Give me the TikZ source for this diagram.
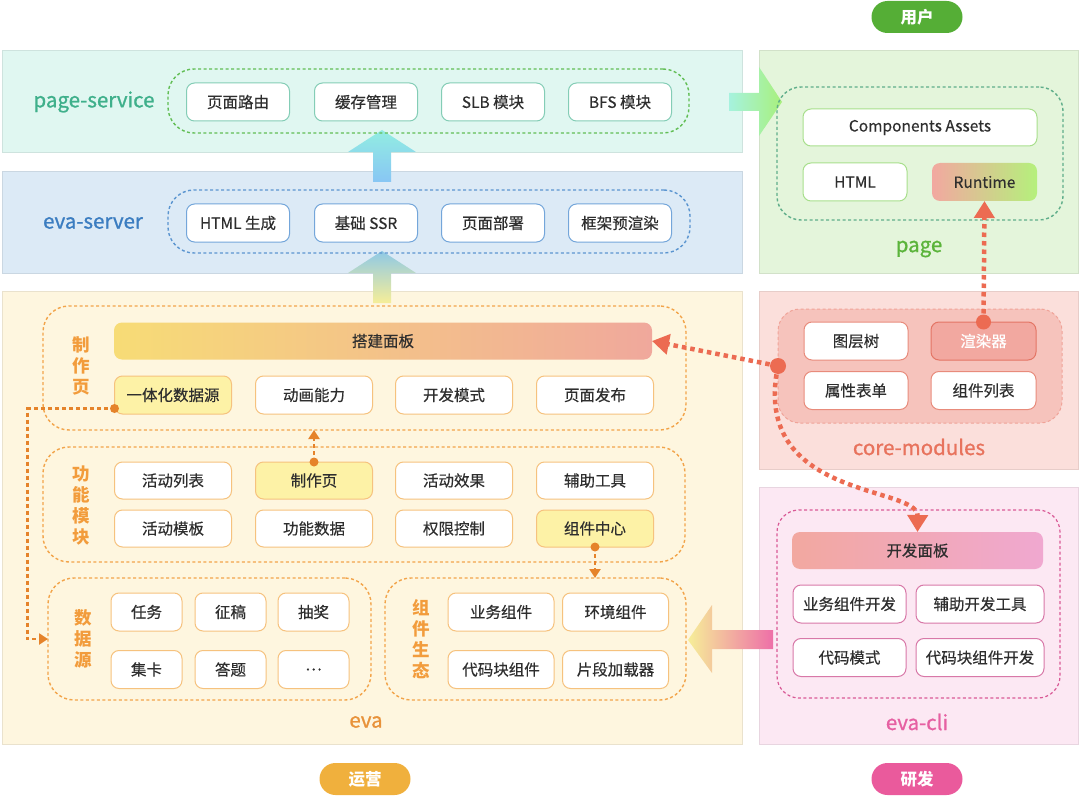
\documentclass[tikz,border=0pt]{standalone}
\usepackage{fontspec}
\setmainfont{Noto Sans CJK SC}
\newfontfamily\boxfam[FakeBold=0.4]{Noto Sans CJK SC}
\newfontfamily\tagfam[FakeBold=1]{Noto Sans CJK SC}
\usepackage{tikz}
\usetikzlibrary{arrows.meta,calc,positioning}
\definecolor{TextDark}{HTML}{2E2E2E}
\definecolor{PSFill}{HTML}{E0F7F1}
\definecolor{PSText}{HTML}{3FB08B}
\definecolor{PSBox}{HTML}{84CDB6}
\definecolor{PSDash}{HTML}{62BE55}
\definecolor{ESFill}{HTML}{DCEAF6}
\definecolor{ESText}{HTML}{3B7DC1}
\definecolor{ESBox}{HTML}{74A6DA}
\definecolor{ESDash}{HTML}{5B95D0}
\definecolor{PageFill}{HTML}{E4F5DB}
\definecolor{PageText}{HTML}{5BB43B}
\definecolor{PageBox}{HTML}{A8DF8C}
\definecolor{PageDash}{HTML}{5FAE8A}
\definecolor{CoreFill}{HTML}{FBDFDB}
\definecolor{CoreText}{HTML}{E8735D}
\definecolor{CoreGrp}{HTML}{F6C3BC}
\definecolor{CoreDash}{HTML}{F0A398}
\definecolor{CoreBox}{HTML}{E88B7B}
\definecolor{RenderFill}{HTML}{F2A8A0}
\definecolor{RenderDraw}{HTML}{E47565}
\definecolor{CliFill}{HTML}{FCE8F3}
\definecolor{CliText}{HTML}{E660A2}
\definecolor{CliDash}{HTML}{D95A96}
\definecolor{CliBox}{HTML}{D878A8}
\definecolor{EvaFill}{HTML}{FEF6DF}
\definecolor{EvaText}{HTML}{E8923A}
\definecolor{GrpOrange}{HTML}{F29C3C}
\definecolor{OrangeDash}{HTML}{F2A44A}
\definecolor{OrangeBox}{HTML}{F6C27E}
\definecolor{YellowFill}{HTML}{FDF2A6}
\definecolor{BarYellow}{HTML}{F7DC76}
\definecolor{BarSalmon}{HTML}{F0A89C}
\definecolor{OrangeLine}{HTML}{E5832A}
\definecolor{RedLine}{HTML}{EC6B52}
\definecolor{UserGreen}{HTML}{55AE36}
\definecolor{OpsOrange}{HTML}{F0B03D}
\definecolor{DevPink}{HTML}{EA5A9C}
\definecolor{ArrBlue}{HTML}{88C6F4}
\definecolor{ArrCyan}{HTML}{92EDE2}
\definecolor{ArrYellow}{HTML}{F6EE98}
\definecolor{ArrSky}{HTML}{8FC9E6}
\definecolor{ArrMint}{HTML}{A6F2DE}
\definecolor{ArrGreen}{HTML}{A8F07C}
\definecolor{ArrPink}{HTML}{EE6FA8}
\definecolor{RunGreen}{HTML}{B5F07C}
\definecolor{BarPink}{HTML}{F0A8D0}
\newcommand{\boxfont}{\boxfam\fontsize{15.5}{18}\selectfont}
\newcommand{\tagfont}{\tagfam\fontsize{20.5}{24}\selectfont}
\newcommand{\vfont}{\fontsize{17.5}{21}\selectfont\bfseries}
\newcommand{\pillfont}{\fontsize{16.5}{19}\selectfont\bfseries}
\tikzset{
  panel/.style={fill=#1, draw=#1!92!black, line width=0.8pt, inner sep=0pt, outer sep=0pt},
  grp/.style={draw=#1, dash pattern=on 3pt off 2.5pt, line width=1.4pt, rounded corners=26pt, inner sep=0pt, outer sep=0pt},
  box/.style={draw=#1, fill=white, rounded corners=8pt, line width=1pt, minimum height=38pt, inner sep=0pt, outer sep=0pt, font=\boxfont, text=TextDark},
  bar/.style={rounded corners=8pt, minimum height=37pt, inner sep=0pt, outer sep=0pt, font=\boxfont, text=TextDark},
  tag/.style={font=\tagfont, text=#1},
  vlabel/.style={font=\vfont, text=GrpOrange, align=center},
  pill/.style={fill=#1, rounded corners=16pt, minimum width=91pt, minimum height=32pt, text=white, font=\pillfont},
  redcon/.style={RedLine, line width=4.5pt, dash pattern=on 4.5pt off 4pt, -{Triangle[length=17pt,width=20pt]}},
  orcon/.style={OrangeLine, line width=2.2pt, dash pattern=on 4pt off 3pt, -{Triangle[length=9pt,width=11pt]}}
}
\begin{document}
\begin{tikzpicture}[x=1pt, y=-1pt, every node/.style={align=center}]
  \useasboundingbox (0,0) rectangle (1080,797);
  % panels
  \node[panel=PSFill, minimum width=740pt, minimum height=102pt] (psPanel) at (372,101) {};
  \node[panel=ESFill, minimum width=740pt, minimum height=102pt] (esPanel) at (372,222) {};
  \node[panel=EvaFill, minimum width=740pt, minimum height=453pt] (evaPanel) at (372,517.5) {};
  \node[panel=PageFill, minimum width=319pt, minimum height=223pt] (pagePanel) at (918.5,161.5) {};
  \node[panel=CoreFill, minimum width=319pt, minimum height=178pt] (corePanel) at (918.5,380) {};
  \node[panel=CliFill, minimum width=319pt, minimum height=257pt] (cliPanel) at (918.5,615.5) {};

  \node[pill=UserGreen] (user) at (917,17) {用户};
  \node[pill=OpsOrange] (ops) at (365,779) {运营};
  \node[pill=DevPink] (dev) at (917,779) {研发};

  % fat arrows
  \shade[bottom color=ArrBlue, top color=ArrCyan]
    (373,182) -- (373,152) -- (348,152) -- (382,130) -- (416,152) -- (391,152) -- (391,182) -- cycle;
  \shade[bottom color=ArrYellow, top color=ArrSky]
    (373,303) -- (373,273) -- (348,273) -- (382,251) -- (416,273) -- (391,273) -- (391,303) -- cycle;
  \shade[left color=ArrMint, right color=ArrGreen]
    (729,93) -- (759,93) -- (759,67) -- (782,102) -- (759,136) -- (759,111) -- (729,111) -- cycle;
  \shade[left color=ArrYellow, right color=ArrPink]
    (773,630) -- (712,630) -- (712,605) -- (688,640) -- (712,673) -- (712,649) -- (773,649) -- cycle;

  % page-service
  \node[tag=PSText] (psTag) at (94,102) {page-service};
  \node[grp=PSDash, minimum width=521pt, minimum height=64pt] (gPS) at (428.5,101) {};
  \node[box=PSBox, minimum width=103pt] (route) at (238,102) {页面路由};
  \node[box=PSBox, minimum width=103pt] (cache) at (366,102) {缓存管理};
  \node[box=PSBox, minimum width=103pt] (slb) at (493,102) {SLB 模块};
  \node[box=PSBox, minimum width=103pt] (bfs) at (620,102) {BFS 模块};

  % eva-server
  \node[tag=ESText] (esTag) at (93,223) {eva-server};
  \node[grp=ESDash, minimum width=522pt, minimum height=63pt] (gES) at (429,221.5) {};
  \node[box=ESBox, minimum width=103pt] (html) at (238,223) {HTML 生成};
  \node[box=ESBox, minimum width=103pt] (ssr) at (366,223) {基础 SSR};
  \node[box=ESBox, minimum width=103pt] (deploy) at (493,223) {页面部署};
  \node[box=ESBox, minimum width=103pt] (prerender) at (620,223) {框架预渲染};

  % page
  \node[grp=PageDash, minimum width=286pt, minimum height=133pt, rounded corners=24pt] (gPage) at (920,153.5) {};
  \node[box=PageBox, minimum width=234pt, minimum height=37pt] (assets) at (920,127.5) {Components Assets};
  \node[box=PageBox, minimum width=104pt] (pHtml) at (855,182) {HTML};
  \node[bar, left color=RenderFill, right color=RunGreen, minimum width=105pt, minimum height=38pt] (runtime) at (984.5,182) {Runtime};
  \node[tag=PageText] (pageTag) at (919,249) {page};

  % core-modules
  \node[grp=CoreDash, fill=CoreGrp, minimum width=284pt, minimum height=114pt, line width=1pt, rounded corners=22pt] (gCore) at (920,366) {};
  \node[box=CoreBox, minimum width=104pt] (layer) at (856,341) {图层树};
  \node[box=RenderDraw, fill=RenderFill, text=white, minimum width=105pt] (render) at (983.5,341) {渲染器};
  \node[box=CoreBox, minimum width=104pt] (propForm) at (856,390.5) {属性表单};
  \node[box=CoreBox, minimum width=105pt] (compList) at (983.5,390.5) {组件列表};
  \node[tag=CoreText] (coreTag) at (919,447) {core-modules};

  % eva-cli
  \node[grp=CliDash, minimum width=283pt, minimum height=188pt, line width=1.2pt, rounded corners=22pt] (gCli) at (918.5,604) {};
  \node[bar, left color=RenderFill, right color=BarPink, minimum width=251pt] (devBar) at (917.5,550.5) {开发面板};
  \node[box=CliBox, minimum width=113pt] (bizDev) at (849.5,604) {业务组件开发};
  \node[box=CliBox, minimum width=128pt] (toolDev) at (980,604) {辅助开发工具};
  \node[box=CliBox, minimum width=113pt] (codeMode) at (849.5,657.5) {代码模式};
  \node[box=CliBox, minimum width=128pt] (blockDev) at (980,657.5) {代码块组件开发};
  \node[tag=CliText] (cliTag) at (917,722) {eva-cli};

  % eva
  \node[grp=OrangeDash, minimum width=643pt, minimum height=124pt] (gMake) at (364.5,368) {};
  \node[vlabel] (makeTag) at (81,366) {制\\作\\页};
  \node[bar, left color=BarYellow, right color=BarSalmon, minimum width=538pt] (mBar) at (383,341) {搭建面板};
  \node[box=OrangeBox, fill=YellowFill, minimum width=117pt] (mData) at (173,395) {一体化数据源};
  \node[box=OrangeBox, minimum width=117pt] (mAnim) at (314,395) {动画能力};
  \node[box=OrangeBox, minimum width=117pt] (mDev) at (454,395) {开发模式};
  \node[box=OrangeBox, minimum width=117pt] (mPub) at (595,395) {页面发布};

  \node[grp=OrangeDash, minimum width=642pt, minimum height=115pt] (gFunc) at (364,504.5) {};
  \node[vlabel] (funcTag) at (81,506) {功\\能\\模\\块};
  \node[box=OrangeBox, minimum width=117pt, minimum height=37pt] (fList) at (173,480.5) {活动列表};
  \node[box=OrangeBox, fill=YellowFill, minimum width=117pt, minimum height=37pt] (fMake) at (314,480.5) {制作页};
  \node[box=OrangeBox, minimum width=117pt, minimum height=37pt] (fEffect) at (454,480.5) {活动效果};
  \node[box=OrangeBox, minimum width=117pt, minimum height=37pt] (fTool) at (595,480.5) {辅助工具};
  \node[box=OrangeBox, minimum width=117pt, minimum height=37pt] (fTpl) at (173,528.5) {活动模板};
  \node[box=OrangeBox, minimum width=117pt, minimum height=37pt] (fData) at (314,528.5) {功能数据};
  \node[box=OrangeBox, minimum width=117pt, minimum height=37pt] (fAuth) at (454,528.5) {权限控制};
  \node[box=OrangeBox, fill=YellowFill, minimum width=117pt, minimum height=37pt] (fComp) at (595,528.5) {组件中心};

  \node[grp=OrangeDash, minimum width=323pt, minimum height=122pt] (gData) at (209.5,639) {};
  \node[vlabel] (dataTag) at (83,639) {数\\据\\源};
  \node[box=OrangeBox, minimum width=71pt] (dTask) at (146.5,612) {任务};
  \node[box=OrangeBox, minimum width=71pt] (dDraft) at (230.5,612) {征稿};
  \node[box=OrangeBox, minimum width=71pt] (dLottery) at (313.5,612) {抽奖};
  \node[box=OrangeBox, minimum width=71pt] (dCard) at (146.5,669.5) {集卡};
  \node[box=OrangeBox, minimum width=71pt] (dQuiz) at (230.5,669.5) {答题};
  \node[box=OrangeBox, minimum width=71pt] (dMore) at (313.5,669.5) {…};

  \node[grp=OrangeDash, minimum width=301pt, minimum height=122pt] (gComp) at (535.5,639) {};
  \node[vlabel] (compTag) at (421,639) {组\\件\\生\\态};
  \node[box=OrangeBox, minimum width=106pt] (cBiz) at (501,612) {业务组件};
  \node[box=OrangeBox, minimum width=106pt] (cEnv) at (615.5,612) {环境组件};
  \node[box=OrangeBox, minimum width=106pt] (cBlock) at (501,669.5) {代码块组件};
  \node[box=OrangeBox, minimum width=106pt] (cFrag) at (615.5,669.5) {片段加载器};
  \node[tag=EvaText] (evaTag) at (366,722) {eva};

  % connectors
  \draw[orcon] (fMake.north) -- (fMake.north |- gMake.south);
  \fill[OrangeLine] (fMake.north) circle (4.5pt);
  \draw[orcon] (fComp.south) -- (fComp.south |- gComp.north);
  \fill[OrangeLine] (fComp.south) circle (4.5pt);
  \draw[orcon] (mData.-167) -- ++(-87,0) |- (gData.west);
  \fill[OrangeLine] (mData.-167) circle (4.5pt);

  \draw[redcon] (render.north) -- (runtime.south);
  \fill[RedLine] (render.north) circle (7.5pt);
  \draw[redcon] (gCore.west) -- (mBar.east);
  \draw[redcon] (gCore.west) .. controls (750,500) and (918,485) .. (devBar.north);
  \fill[RedLine] (gCore.west) circle (8pt);
\end{tikzpicture}
\end{document}
